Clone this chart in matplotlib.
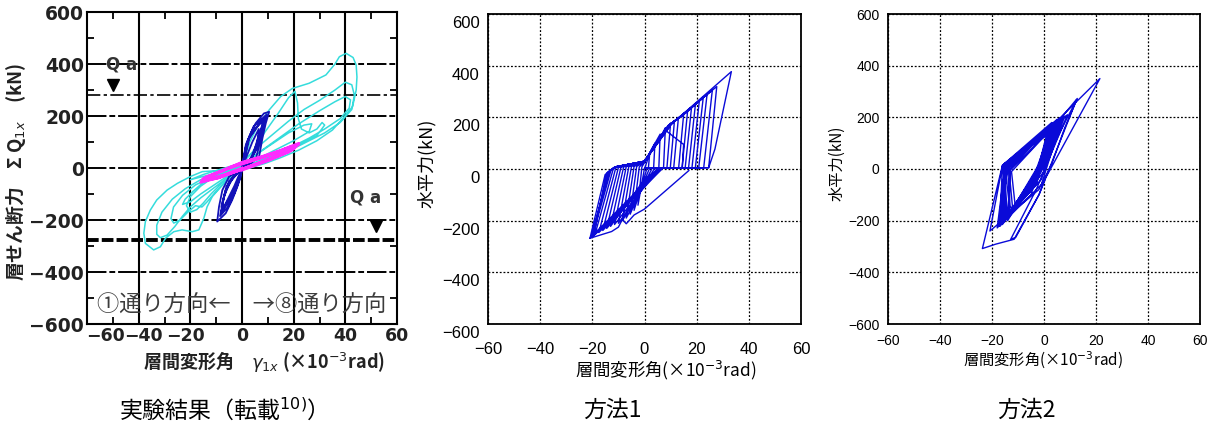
import matplotlib.pyplot as plt
from matplotlib.ticker import MultipleLocator
from matplotlib.transforms import ScaledTranslation

plt.rcParams['font.family'] = ['Noto Sans CJK JP', 'DejaVu Sans']
plt.rcParams['axes.unicode_minus'] = True

# story drift angle (x10^-3 rad), story shear (kN)
# --- test result: three loading stages
exp_cyan = [
    # negative lobe 1
    (0, 0), (-6, -8), (-12, -12), (-15.4, -14), (-20, -33), (-25, -59), (-29, -85), (-33, -123),
    (-35.5, -162), (-37.4, -206), (-38, -251), (-37.4, -290), (-34.2, -315), (-31.6, -303),
    (-29.6, -270), (-26.4, -245), (-23.2, -238), (-19.3, -245), (-16.7, -238), (-14.8, -194),
    (-13.5, -149), (-11.5, -110), (-8, -70), (-4, -30), (0, 0),
    # positive lobe 1
    (3, 100), (6, 160), (10.5, 223), (15, 275), (19.5, 306), (26, 326), (32.5, 358), (36, 400),
    (37.7, 428), (40.3, 441), (43, 425), (44.2, 396), (44.5, 350), (44.2, 300), (42.8, 236),
    (39, 190), (35, 146), (29, 105), (22, 69), (15, 40), (9, 18), (3, 0), (-3, -15),
    # negative lobe 2
    (-8, -20), (-16, -45), (-22, -80), (-27, -120), (-31, -170), (-33, -220), (-33, -255),
    (-31.6, -268), (-29, -258), (-26, -225), (-23, -185), (-20, -150), (-16, -115), (-10, -70),
    (-4, -25), (-5, -10),
    # positive lobe 2
    (0, 20), (6, 80), (12, 130), (18, 180), (24, 225), (30, 260), (36, 300), (40, 330),
    (42.5, 320), (43.5, 280), (42.5, 225), (38, 175), (32, 135), (24, 95), (16, 55), (8, 25),
    (0, 5),
    # negative lobe 3
    (-10, -28), (-18, -65), (-23, -105), (-26.5, -150), (-27.5, -195), (-26.4, -212),
    (-24, -200), (-21, -170), (-18, -145), (-15.5, -150), (-13.5, -130), (-10, -90), (-5, -40),
    (-4, -8),
    # positive lobe 3
    (2, 25), (8, 70), (15, 120), (22, 170), (30, 220), (36, 255), (40, 275), (42, 262),
    (41.5, 230), (38, 190), (32, 150), (26, 115), (18, 75), (10, 40), (2, 5),
    # negative lobe 4
    (-2, 0), (-11, -35), (-16, -70), (-20, -110), (-21.5, -145), (-20, -170), (-17.5, -160),
    (-15, -135), (-12, -100), (-8, -60), (-3, -15),
    # positive lobe 4
    (-2, 0), (4, 60), (9, 140), (14, 210), (18, 270), (20.5, 295), (21.5, 250), (21.8, 190),
    (23, 150), (26, 135), (29, 150), (31, 175), (32, 165), (29, 125), (22, 90), (14, 55),
    (6, 25), (0, 5),
    # negative lobe 5
    (-9, -25), (-15, -55), (-19, -90), (-22, -120), (-23, -140), (-20, -130), (-16, -100),
    (-10, -60), (-4, -20), (0, 5),
    # positive lobe 5
    (6, 55), (12, 95), (18, 135), (24, 165), (27, 170), (26, 140), (20, 105), (12, 65),
    (4, 25), (-4, -5), (-14, -30), (-20, -45), (-15, -25), (-5, 5), (5, 35),
]
exp_blue = [
    (0, 0), (1.4, 80), (3, 125), (5.3, 172), (8.5, 210), (10.5, 216), (9.2, 172), (7.9, 114),
    (6.6, 43), (3, 15), (0, 0),
    (-2.5, -20), (-5, -33), (-7.6, -85), (-8.9, -149), (-9.6, -206), (-6.3, -174), (-3.8, -123),
    (-1.8, -72), (-0.5, -33), (0, 0),
    (1.5, 90), (4.5, 160), (9.5, 205), (8.5, 160), (7, 100), (5.5, 40), (2, 10), (0, 0),
    (-3, -30), (-6.5, -90), (-8.5, -185), (-5.5, -150), (-3, -100), (-1, -45), (0, 0),
    (2, 100), (5, 165), (9, 195), (8, 150), (6, 80), (3, 25), (0, 0),
    (-4, -40), (-7, -110), (-8, -170), (-5, -130), (-2.5, -80), (0, -10),
    (2.5, 110), (6, 160), (8.5, 185), (7, 130), (5, 60), (1, 5),
    (-5, -50), (-7.5, -130), (-7.5, -160), (-4.5, -110), (-1.5, -50), (0, 0),
    (3, 120), (7, 175), (8, 170), (6, 110), (4, 40), (0, 0),
    (-6, -70), (-8, -150), (-6.5, -140), (-3, -70), (0, 0),
    (4, 100), (6.5, 150), (6, 100), (3.5, 40), (0, 0),
]
exp_magenta = [
    (0, 0), (-8, -30), (-16, -55), (-15, -40), (-8, -12), (0, 22), (8, 45), (15, 68), (22, 95),
    (20, 75), (14, 48), (8, 25), (0, -5),
    (-10, -40), (-15, -52), (-12, -28), (-4, 5), (4, 32), (12, 55), (18, 78), (21, 88),
    (18, 62), (10, 30), (2, 2),
    (-6, -25), (-13, -45), (-14, -35), (-6, -4), (4, 28), (16, 70), (19, 82), (16, 55),
    (6, 18), (-2, -12),
    (-9, -38), (-14, -47), (-10, -22), (-2, 12), (8, 40), (20, 80), (22, 92), (19, 66),
    (10, 28), (0, -8),
]
qa_levels = [280, -278]

# --- method 1
method1 = [
    (0, 0),
    (2, 60), (1.5, 5), (0, 3), (-2.5, -140), (-1, 8), (0, 25),
    (4, 100), (3.5, 5), (1, 4), (-4, -160), (-2, 8), (0, 27),
    (6, 135), (5.5, 5), (2, 4), (-5.5, -175), (-3, 10), (0, 28),
    (7, 140), (8, 160), (7.3, 5), (3, 4), (-7, -190), (-4, 10), (0, 28),
    (10, 178), (8.6, 5), (4, 4), (0, -60), (-8.5, -200), (-5, 10), (0, 29),
    (8, 155), (11.5, 188), (9.9, 5), (5, 4), (-10, -210), (-6, 10), (0, 29),
    (9, 165), (13, 198), (11.2, 5), (5.5, 4), (-11.5, -215), (-7, 9), (0, 29),
    (9, 168), (15, 210), (13.1, 5), (6, 5), (0, -40), (-13, -222), (-8, 8), (0, 30),
    (9.5, 170), (16.5, 222), (14.4, 5), (6, 5), (-14.5, -230), (-9, 8), (0, 30),
    (10, 172), (18, 235), (15.6, 5), (6.5, 5), (-16, -238), (-10, 6), (0, 30),
    (9, 165), (19.5, 248), (16.9, 5), (6.5, 5), (-17.5, -246), (-11, 5), (0, 30),
    (10, 172), (21, 262), (18.2, 5), (7, 5), (0, -70), (-19, -254), (-12, 0), (-11.3, 8), (0, 30),
    (9.5, 170), (22.5, 275), (19.5, 5), (7, 5), (-20, -262), (-12.8, -3), (-11.3, 8), (0, 30),
    (10, 172), (24, 290), (20.8, 5), (7, 5), (-20.5, -265), (-13.5, -8), (-11.3, 8), (0, 30),
    (10, 172), (26, 305), (22.7, 5), (7, 5), (-20, -260), (-14, -12), (-11.3, 8), (0, 30),
    (10, 172), (27.7, 319), (24.6, 5), (7, 5), (-19.5, -258), (-14.5, -16), (-11.3, 8), (0, 30),
    (10.5, 175), (33.3, 377), (27, 77), (24.6, 5), (7, 5), (-20.9, -268), (-15.1, -22),
    (-11.3, 8), (0, 30), (8, 150), (15, 95), (14.5, 5), (6, 5),
    (-20.9, -268), (-12.6, -242), (-10, -225), (-8.5, -195), (-7, -212), (-4, -178),
    (0, -155), (17, -6),
]

# --- method 2
method2 = [
    (0, 0),
    (4, 150), (1, 40), (-10, -140), (-13, -150), (-14, 5),
    (3, 170), (0, 50), (-13, -170), (-15, 10),
    (5, 185), (-1, 20), (-15, -195), (-15.5, 12),
    (6, 195), (1, 30), (-16, -205), (-14.5, 8),
    (4, 180), (-2, -20), (-17, -215), (-16, 14),
    (7, 200), (0, -10), (-17.3, -218), (-15, 12),
    (5, 192), (-3, -60), (-16.7, -212), (-14, 10),
    (8, 205), (2, 40), (-14, -190), (-15.4, 19),
    (6.5, 197), (12.8, 273), (8, 160), (3, 20), (-2, -80), (-20.8, -240), (-16, 10),
    (6, 198), (-1, -40), (-18, -228), (-15, 14),
    (2, 160), (-2, 10), (-12, -160), (-13.5, 3),
    (3.5, 175), (-4, -30), (-15.5, -200), (-14.8, 15),
    (5.5, 188), (-4, -70), (-16.5, -210), (-15.2, 6),
    (2.5, 150), (-5, -100), (-13.5, -180), (-13, -5),
    (7.5, 202), (-1, -10), (-17, -222), (-14.2, 12),
    (4.5, 182), (-3, -50), (-14.5, -195), (-15.8, 16),
    (1, 130), (-4.5, -80), (-11, -150), (-12.5, -10),
    (6.5, 196), (-2.5, -30), (-16, -215), (-14.6, 4),
    (9, 210), (-3, -80), (-12.8, -272), (-10.9, -265), (-1.9, -99), (12.5, 268), (4, 100),
    (-1, -60), (-17, -220), (-15, 12),
    (6, 196), (21.5, 350), (0.6, -35), (-1.9, -99), (-11.5, -272), (-18.6, -291),
    (-23.7, -308), (-16, 14),
    (3, 180), (-2, 0), (-14, -200), (-13, 0), (2, 160),
]

x_ticks = list(range(-60, 61, 20))
y_ticks = list(range(-600, 601, 200))

W, H = 1218, 426
fig = plt.figure(figsize=(W / 100, H / 100), dpi=100)


def at(x, y):
    return x / W, 1 - y / H


def xy(path):
    return [p[0] for p in path], [p[1] for p in path]


def shift(artist, dx=0, dy=0):
    artist.set_transform(artist.get_transform() +
                         ScaledTranslation(dx / 100, dy / 100, fig.dpi_scale_trans))


# ---------------- test result
ax1 = fig.add_axes([87 / W, 1 - 324 / H, 310 / W, 312 / H])
ax1.set_xlim(-60, 60)
ax1.set_ylim(-600, 600)
ax1.set_xticks(x_ticks)
ax1.set_yticks(y_ticks)
ax1.xaxis.set_minor_locator(MultipleLocator(10))
ax1.yaxis.set_minor_locator(MultipleLocator(100))
ax1.tick_params(which='both', direction='in', top=True, right=True, width=1.3)
ax1.tick_params(which='major', length=0, pad=2, labelsize=13.5,
                labelfontfamily='DejaVu Sans')
ax1.tick_params(axis='x', which='major', labelsize=12.5)
ax1.tick_params(which='minor', length=5)
for lab in ax1.get_xticklabels() + ax1.get_yticklabels():
    lab.set_fontweight('bold')
    lab.set_color('#222222')
xlabs = ax1.get_xticklabels()
shift(xlabs[0], dx=18)
shift(xlabs[1], dx=5)
shift(xlabs[2], dx=-5)
for s in ax1.spines.values():
    s.set_linewidth(1.5)

for v in x_ticks[1:-1]:
    ax1.axvline(v, color='k', lw=1.5, zorder=1)
for v in y_ticks[1:-1]:
    ax1.axhline(v, color='k', lw=1.4, ls=(0, (10, 1.5, 3, 1.5)), zorder=1)
ax1.axhline(qa_levels[0], color='k', lw=1.2, ls=(0, (8, 2, 2, 2)), zorder=1)
ax1.axhline(qa_levels[1], color='k', lw=2.8, ls=(0, (3, 0.8)), zorder=1)

cx, cy = xy(exp_cyan)
ax1.plot(cx, cy, color='#35dcdc', lw=1.1, zorder=2)
bx, by = xy(exp_blue)
ax1.plot(bx, by, color='#1212b8', lw=1.3, zorder=3)
mx, my = xy(exp_magenta)
ax1.plot(mx, my, color='#ff2cff', lw=2.0, zorder=4)

ax1.text(-46.6, 400, 'Q a', ha='center', va='center', fontsize=12,
         fontfamily='DejaVu Sans', fontweight='bold', color='#333333', zorder=5)
ax1.plot([-50], [qa_levels[0] + 39], 'kv', ms=9, zorder=5)
ax1.text(47.8, -113, 'Q a', ha='center', va='center', fontsize=12,
         fontfamily='DejaVu Sans', fontweight='bold', color='#333333', zorder=5)
ax1.plot([51.7], [-223], 'kv', ms=9, zorder=5)
ax1.text(0, -527, '①通り方向←　→⑧通り方向', ha='center', va='center',
         fontsize=16, color='#3c3c3c', zorder=5)

fig.text(*at(264, 362), '層間変形角　$\\gamma_{1x}$ (×10$^{-3}$rad)', ha='center',
         va='center', fontsize=13, fontweight='bold', color='#222222')
fig.text(*at(16, 172), '層せん断力　Σ Q$_{1x}$　(kN)', ha='center', va='center',
         rotation=90, fontsize=13.5, fontweight='bold', color='#222222')


# ---------------- analysis panels
def method_axes(rect, path, tick_size, xpad, ypad, ylab_shift):
    ax = fig.add_axes(rect)
    ax.set_xlim(-60, 60)
    ax.set_ylim(-600, 600)
    ax.set_xticks(x_ticks)
    ax.set_yticks(y_ticks)
    ax.grid(True, color='k', lw=0.9, ls=(0, (1.5, 1.5)))
    ax.set_axisbelow(True)
    ax.tick_params(length=0, labelsize=tick_size, labelfontfamily='Liberation Sans')
    ax.tick_params(axis='x', pad=xpad)
    ax.tick_params(axis='y', pad=ypad)
    if ylab_shift:
        for lab in ax.get_yticklabels():
            shift(lab, dy=-ylab_shift)
    for s in ax.spines.values():
        s.set_linewidth(1.3)
    px_, py_ = xy(path)
    ax.plot(px_, py_, color='#0a0ad8', lw=1.0)
    return ax


ax2 = method_axes([488 / W, 1 - 324 / H, 313 / W, 310 / H], method1, 12, 13, 6, 8)
fig.text(*at(666, 370), '層間変形角(×10$^{-3}$rad)', ha='center', va='center',
         fontsize=12.5)
fig.text(*at(427, 163), '水平力(kN)', ha='center', va='center', rotation=90,
         fontsize=13)

ax3 = method_axes([888 / W, 1 - 324 / H, 312 / W, 310 / H], method2, 10, 7, 6, 0)
fig.text(*at(1043, 360), '層間変形角(×10$^{-3}$rad)', ha='center', va='center',
         fontsize=11)
fig.text(*at(837, 163), '水平力(kN)', ha='center', va='center', rotation=90,
         fontsize=11)

# captions
fig.text(*at(217, 410), '実験結果（転載$^{10)}$）', ha='center', va='center', fontsize=16.5)
fig.text(*at(612, 410), '方法1', ha='center', va='center', fontsize=16.5)
fig.text(*at(1026, 410), '方法2', ha='center', va='center', fontsize=16.5)

fig.savefig('out.png', dpi=100)
